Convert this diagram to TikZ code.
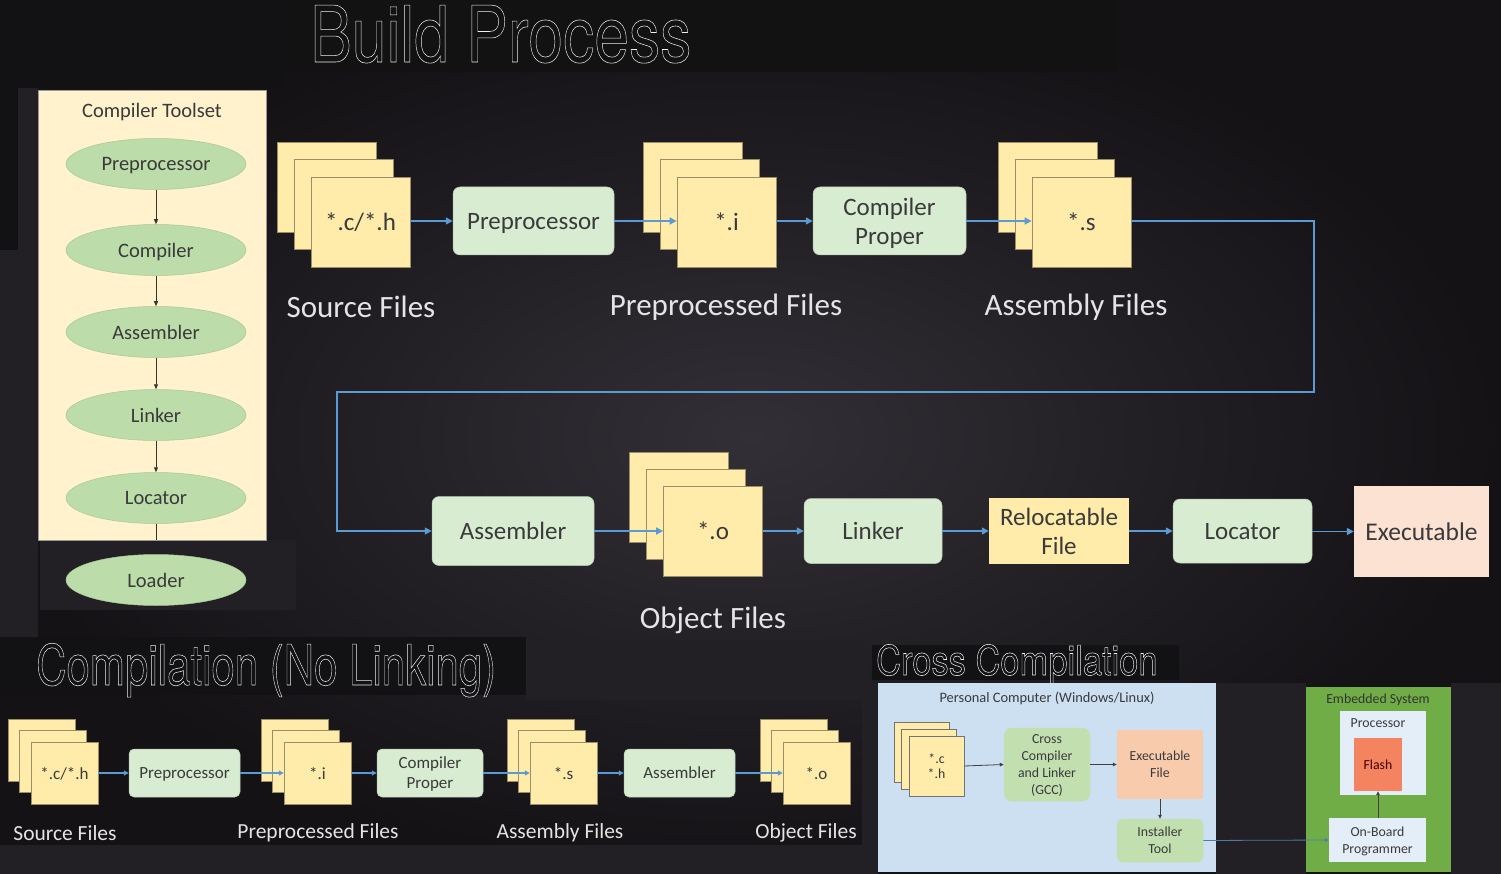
\documentclass[tikz,border=0pt]{standalone}
\usepackage{fontspec}
\usepackage{graphicx}
\setmainfont{Carlito}
\newfontfamily\titlefont{TeX Gyre Heros}
\usetikzlibrary{arrows.meta,shapes.geometric}
\definecolor{bgin}{HTML}{322F36}
\definecolor{bgout}{HTML}{141215}
\definecolor{bgdark}{HTML}{121113}
\definecolor{bgmid}{HTML}{222024}
\definecolor{cream}{HTML}{FFF2CC}
\definecolor{fileyel}{HTML}{FFEBAA}
\definecolor{filedraw}{HTML}{9A8E68}
\definecolor{procgreen}{HTML}{D8ECD2}
\definecolor{ellgreen}{HTML}{BCDCAA}
\definecolor{peach}{HTML}{FBE2D3}
\definecolor{txtdark}{HTML}{3A3A3A}
\definecolor{lblgray}{HTML}{E4E4E4}
\definecolor{flowblue}{HTML}{5B9BD5}
\definecolor{pcblue}{HTML}{CCE0F2}
\definecolor{ccgreen}{HTML}{C2DFB0}
\definecolor{exorange}{HTML}{F8CBAD}
\definecolor{embgreen}{HTML}{70AD47}
\definecolor{paleblue}{HTML}{E4EEF8}
\definecolor{flashred}{HTML}{F4845F}
\newcommand\outlined[1]{\special{pdf:literal direct 1 Tr 0.55 w}#1\special{pdf:literal direct 0 Tr}}
\tikzset{
  filebox/.style={draw=filedraw, line width=0.7pt, fill=fileyel, inner sep=0pt, text=txtdark, align=center, text depth=0pt},
  proc/.style={rounded corners=7pt, fill=procgreen, draw=procgreen!85!black, line width=0.5pt, inner sep=0pt, text=txtdark, align=center, text depth=0pt},
  sqbox/.style={fill=#1, inner sep=0pt, text=txtdark, align=center, text depth=0pt},
  ell/.style={ellipse, fill=ellgreen, draw=ellgreen!90!black, line width=0.5pt, minimum width=180pt, minimum height=51pt, inner sep=0pt, text=txtdark, text depth=0pt, font=\fontsize{20.5}{22}\selectfont},
  lbl/.style={text=lblgray, inner sep=0pt},
  flow/.style={draw=flowblue, line width=1.6pt, -{Triangle[length=7pt,width=7pt]}},
  flowsm/.style={draw=flowblue, line width=1.2pt, -{Triangle[length=5pt,width=5pt]}},
  blk/.style={draw=black!80, line width=0.9pt, -{Triangle[length=5pt,width=4pt]}},
  ttl/.style={text=white!94!black, inner sep=0pt, anchor=base west}
}
\begin{document}
\begin{tikzpicture}[x=1pt,y=-1pt]
\useasboundingbox (0,0) rectangle (1501,874);
% ---------- background collage ----------
\shade[inner color=bgin, outer color=bgout] (0,0) rectangle (1501,874);
\fill[bgdark] (0,0) rectangle (285,88);
\fill[black!93] (285,0) rectangle (1118,72);
\fill[bgmid] (0,88) rectangle (38,640);
\fill[bgdark] (0,88) rectangle (18,250);
\fill[bgmid] (40,540) rectangle (296,610);
\fill[bgdark] (0,637) rectangle (526,695);
\fill[bgmid] (526,640) rectangle (870,700);
\fill[bgdark] (872,645) rectangle (1179,680);
\fill[bgmid] (862,683) rectangle (878,874);
\fill[bgmid] (1216,683) rectangle (1306,874);
\fill[bgmid] (1451,683) rectangle (1501,874);
\fill[bgmid] (0,845) rectangle (870,874);

% ---------- titles ----------
\node[ttl] (tbuild) at (310,62) {\titlefont\fontsize{78}{80}\selectfont\scalebox{0.8}[1]{\outlined{Build Process}}};
\node[ttl] (tcomp) at (36,685) {\titlefont\fontsize{56}{58}\selectfont\scalebox{0.75}[1]{\outlined{Compilation (No Linking)}}};
\node[ttl] (tcross) at (876,675) {\titlefont\fontsize{41}{43}\selectfont\scalebox{0.84}[1]{\outlined{Cross Compilation}}};

% ---------- compiler toolset ----------
\node[draw=black!40, line width=0.5pt, fill=cream, minimum width=228pt, minimum height=450pt, inner sep=0pt] (toolset) at (152,315) {};
\node[text=txtdark, text depth=0pt, font=\fontsize{20.5}{22}\selectfont] (tstitle) at (152,110) {Compiler Toolset};
\node[ell] (e1) at (156,164) {Preprocessor};
\node[ell] (e2) at (156,250) {Compiler};
\node[ell] (e3) at (156,332) {Assembler};
\node[ell] (e4) at (156,415) {Linker};
\node[ell] (e5) at (156,498) {Locator};
\node[ell] (e6) at (156,580) {Loader};
\draw[blk] (e1) -- (e2);
\draw[blk] (e2) -- (e3);
\draw[blk] (e3) -- (e4);
\draw[blk] (e4) -- (e5);
\coordinate (tsb) at (156,540);
\draw[draw=black!80, line width=0.9pt] (e5.south) -- (tsb);

% ---------- main flow, top row ----------
\tikzset{big/.style={filebox, minimum width=99pt, minimum height=90pt, font=\fontsize{25}{27}\selectfont}}
\node[big] (sa) at (326.5,187) {};
\node[big] (sb) at (343.5,204) {};
\node[big] (sc) at (360.5,222) {*.c/*.h};
\node[big] (ia) at (692.5,187) {};
\node[big] (ib) at (709.5,204) {};
\node[big] (ic) at (726.5,222) {*.i};
\node[big] (qa) at (1047.5,187) {};
\node[big] (qb) at (1064.5,204) {};
\node[big] (qc) at (1081.5,222) {*.s};
\node[proc, minimum width=161pt, minimum height=68pt, font=\fontsize{25}{27}\selectfont] (pp) at (533.5,221) {Preprocessor};
\node[proc, minimum width=153pt, minimum height=68pt, font=\fontsize{25}{29}\selectfont] (cp) at (889.5,221) {Compiler\\Proper};
\node[lbl, font=\fontsize{31}{33}\selectfont] (lsrc) at (361,307) {Source Files};
\node[lbl, font=\fontsize{31}{33}\selectfont] (lpre) at (726,307) {Preprocessed Files};
\node[lbl, font=\fontsize{31}{33}\selectfont] (lasm) at (1076,307) {Assembly Files};

% ---------- main flow, bottom row ----------
\node[big] (oa) at (679,497) {};
\node[big] (ob) at (696,514) {};
\node[big] (oc) at (713,531) {*.o};
\node[proc, minimum width=162pt, minimum height=69pt, font=\fontsize{25}{27}\selectfont] (as) at (513,531) {Assembler};
\node[proc, minimum width=138pt, minimum height=65pt, font=\fontsize{25}{27}\selectfont] (lk) at (873,531) {Linker};
\node[sqbox=fileyel, minimum width=140pt, minimum height=66pt, font=\fontsize{25}{29}\selectfont] (rf) at (1059,531) {Relocatable\\File};
\node[proc, minimum width=139pt, minimum height=64pt, font=\fontsize{25}{27}\selectfont] (lc) at (1242.5,531) {Locator};
\node[sqbox=peach, minimum width=135pt, minimum height=91pt, font=\fontsize{25.5}{27}\selectfont] (ex) at (1421.5,531.5) {Executable};
\node[lbl, font=\fontsize{31}{33}\selectfont] (lobj) at (713,620) {Object Files};

\draw[flow] (sc.east |- pp.west) -- (pp.west);
\draw[flow] (pp.east) -- (ic.west |- pp.east);
\draw[flow] (ic.east |- cp.west) -- (cp.west);
\draw[flow] (cp.east) -- (qc.west |- cp.east);
\coordinate (r1) at (1314,221);
\coordinate (r2) at (1314,392);
\coordinate (r3) at (337,392);
\coordinate (r4) at (337,531);
\draw[flow] (qc.east |- r1) -- (r1) -- (r2) -- (r3) -- (r4) -- (as.west |- r4);
\draw[flow] (as.east |- oc.west) -- (oc.west);
\draw[flow] (oc.east) -- (lk.west |- oc.east);
\draw[flow] (lk.east |- rf.west) -- (rf.west);
\draw[flow] (rf.east) -- (lc.west |- rf.east);
\draw[flow] (lc.east |- ex.west) -- (ex.west);

% ---------- compilation (no linking) ----------
\tikzset{sm/.style={filebox, line width=0.5pt, minimum width=67pt, minimum height=62pt, font=\fontsize{17}{19}\selectfont},
  smp/.style={proc, minimum height=48pt, rounded corners=5pt, font=\fontsize{17}{20}\selectfont},
  smlbl/.style={lbl, font=\fontsize{21.5}{23}\selectfont}}
\node[sm] (c1a) at (41.5,750) {};
\node[sm] (c1b) at (53,761.5) {};
\node[sm] (c1c) at (64.5,773) {*.c/*.h};
\node[sm] (c2a) at (294.5,750) {};
\node[sm] (c2b) at (306,761.5) {};
\node[sm] (c2c) at (317.5,773) {*.i};
\node[sm] (c3a) at (540.5,750) {};
\node[sm] (c3b) at (552,761.5) {};
\node[sm] (c3c) at (563.5,773) {*.s};
\node[sm] (c4a) at (793.5,750) {};
\node[sm] (c4b) at (805,761.5) {};
\node[sm] (c4c) at (816.5,773) {*.o};
\node[smp, minimum width=111pt] (cpp) at (184.5,773) {Preprocessor};
\node[smp, minimum width=106pt] (ccp) at (430,773) {Compiler\\Proper};
\node[smp, minimum width=111pt] (cas) at (679.5,773) {Assembler};
\draw[flowsm] (c1c.east) -- (cpp.west);
\draw[flowsm] (cpp.east) -- (c2c.west);
\draw[flowsm] (c2c.east) -- (ccp.west);
\draw[flowsm] (ccp.east) -- (c3c.west);
\draw[flowsm] (c3c.east) -- (cas.west);
\draw[flowsm] (cas.east) -- (c4c.west);
\node[smlbl] (cl1) at (65,833) {Source Files};
\node[smlbl] (cl2) at (318,833) {Preprocessed Files};
\node[smlbl] (cl3) at (560,833) {Assembly Files};
\node[smlbl] (cl4) at (806,833) {Object Files};

% ---------- cross compilation ----------
\tikzset{xs/.style={filebox, line width=0.6pt, draw=black!55, minimum width=55pt, minimum height=60pt, font=\fontsize{13.8}{15.5}\selectfont},
  xt/.style={font=\fontsize{13.8}{17}\selectfont, text=txtdark, align=center, text depth=0pt},
  xarr/.style={draw=black!75, line width=0.8pt, -{Triangle[length=4pt,width=3.5pt]}}}
\node[sqbox=pcblue, minimum width=338pt, minimum height=189pt] (pc) at (1047,777.5) {};
\node[xt, font=\fontsize{14.4}{16}\selectfont] (pct) at (1047,697) {Personal Computer (Windows/Linux)};
\node[xs] (xa) at (921.5,752) {};
\node[xs] (xb) at (929,759) {};
\node[xs] (xc) at (936.5,766) {*.c\\*.h};
\node[proc, xt, fill=ccgreen, draw=ccgreen, rounded corners=8pt, minimum width=86pt, minimum height=73pt] (xcc) at (1047,764.5) {Cross\\Compiler\\and Linker\\(GCC)};
\node[sqbox=exorange, xt, minimum width=86pt, minimum height=69pt] (xef) at (1160,764.5) {Executable\\File};
\node[proc, xt, fill=ccgreen, draw=ccgreen, rounded corners=6pt, minimum width=86pt, minimum height=43pt] (xit) at (1160,840.5) {Installer\\Tool};
\node[sqbox=embgreen, minimum width=145pt, minimum height=185pt] (emb) at (1378.5,779.5) {};
\node[xt, text=black!80] (embt) at (1378,699) {Embedded System};
\node[sqbox=paleblue, minimum width=86pt, minimum height=84pt] (proc) at (1383,753) {};
\node[xt] (proct) at (1378,723) {Processor};
\node[sqbox=flashred, xt, text=black!75!red, minimum width=48pt, minimum height=53pt] (flash) at (1378,764.5) {Flash};
\node[sqbox=paleblue, xt, minimum width=97pt, minimum height=44pt] (obp) at (1377.5,840) {On-Board\\Programmer};
\draw[xarr] (xc.east) -- (xcc.west);
\draw[xarr] (xcc.east) -- (xef.west);
\draw[xarr] (xef.south) -- (xit.north);
\draw[xarr, draw=flowblue!80!black] (xit.east) -- (obp.west);
\draw[xarr] (obp.north -| flash.south) -- (flash.south);
\end{tikzpicture}
\end{document}
